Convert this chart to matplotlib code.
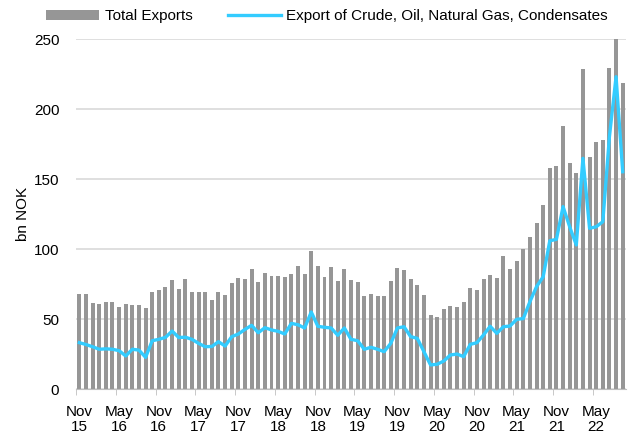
import numpy as np
import matplotlib
matplotlib.use("Agg")
import matplotlib.pyplot as plt

plt.rcParams['font.family'] = ['Liberation Sans', 'DejaVu Sans']

""" Data: monthly, Nov 2015 - Sep 2022 (bn NOK) """
months = ["Nov", "Dec", "Jan", "Feb", "Mar", "Apr", "May", "Jun", "Jul", "Aug", "Sep", "Oct"]
start_year = 2015

total_exports = [
    68, 68, 61.4, 60.9, 62.6, 62.1, 59, 61, 60.2, 60.2, 58.3, 69.7,
    71.2, 73, 78, 71.6, 79, 69.3, 69.5, 69.5, 63.8, 69.3, 67.1, 75.9,
    79.3, 78.6, 86.2, 76.4, 82.8, 81.2, 81.2, 80.5, 82.4, 88.1, 82.4, 98.8,
    87.8, 80.5, 87.4, 77.1, 85.7, 78, 76.6, 66.9, 67.8, 66.4, 66.9, 77.6,
    86.6, 85.4, 79, 74.7, 67.1, 53.1, 51.6, 57.4, 59.5, 59, 62.6, 72.6,
    70.7, 78.8, 81.4, 79.3, 95, 85.9, 91.6, 100, 108.6, 119, 131.6, 158.3,
    159.3, 187.9, 161.9, 154.7, 228.8, 166.1, 176.4, 177.9, 229.5, 251, 218.9,
]

crude_gas_exports = [
    33.3, 32, 30.4, 28.6, 28.9, 28.6, 27.6, 23.8, 28.6, 28, 22.8, 34.7,
    35.7, 37.1, 41.6, 37, 37.2, 35.7, 32.8, 30.4, 30.6, 34, 30.9, 37.6,
    39.5, 42.8, 45.7, 40.4, 44, 42.4, 41.4, 39.5, 47.1, 46.1, 43.8, 55.2,
    45, 44.3, 43.8, 38.6, 43.8, 35.7, 34.7, 28.6, 30, 28.6, 26.9, 32.8,
    43.8, 44.7, 37.6, 36.4, 26.9, 17.4, 17.9, 20.2, 24.5, 25.2, 23.3, 32.1,
    33.3, 38.8, 45, 40, 44.7, 45.2, 50, 50.5, 62.6, 73.3, 80.4, 106.1,
    107.1, 130.5, 116.1, 103.1, 165, 115, 116.1, 119.7, 180.5, 223.3, 155.4,
]

""" Tick labels every 6 months """
n = len(total_exports)
x = np.arange(n)
labels = []
for i in range(n):
    m = months[i % 12]
    yr = start_year + (i + 10) // 12   # Nov 2015 is index 0
    labels.append(f"{m}\n{yr % 100:02d}")

""" Plot """
fig = plt.figure(figsize=(6.41, 4.34), dpi=100)
ax = fig.add_axes([0.1186, 0.103, 0.858, 0.8064])

bars = ax.bar(x, total_exports, width=0.6, color="#969696", label="Total Exports", zorder=2)
line, = ax.plot(x, crude_gas_exports, color="#33CCFF", lw=2.4,
                label="Export of Crude, Oil, Natural Gas, Condensates", zorder=3)

ax.set_xlim(-0.5, n - 0.5)
ax.set_ylim(0, 250)
ax.set_yticks(np.arange(0, 251, 50))
ax.yaxis.grid(True, color="#D9D9D9", lw=1.2, zorder=0)
ax.set_axisbelow(True)

ax.set_xticks(x[::6])
ax.set_xticklabels(labels[::6], fontsize=11, linespacing=1.1)
ax.set_xticks(np.arange(-0.5, n, 6), minor=True)
ax.tick_params(axis="x", which="major", length=0, pad=11)
ax.tick_params(axis="x", which="minor", length=4, color="#BFBFBF")
ax.tick_params(axis="y", length=0, labelsize=11, pad=12)

for s in ["top", "right", "left"]:
    ax.spines[s].set_visible(False)
ax.spines["bottom"].set_color("#BFBFBF")

ax.set_ylabel("bn NOK", fontsize=11, labelpad=3)

fig.legend([bars, line], [bars.get_label(), line.get_label()],
           loc="center", bbox_to_anchor=(327 / 641, 0.962), ncol=2, frameon=False,
           fontsize=11, handlelength=3.5, handleheight=0.6, columnspacing=2.3,
           handletextpad=0.35, borderaxespad=0, borderpad=0)

fig.savefig("out.png", dpi=100)
